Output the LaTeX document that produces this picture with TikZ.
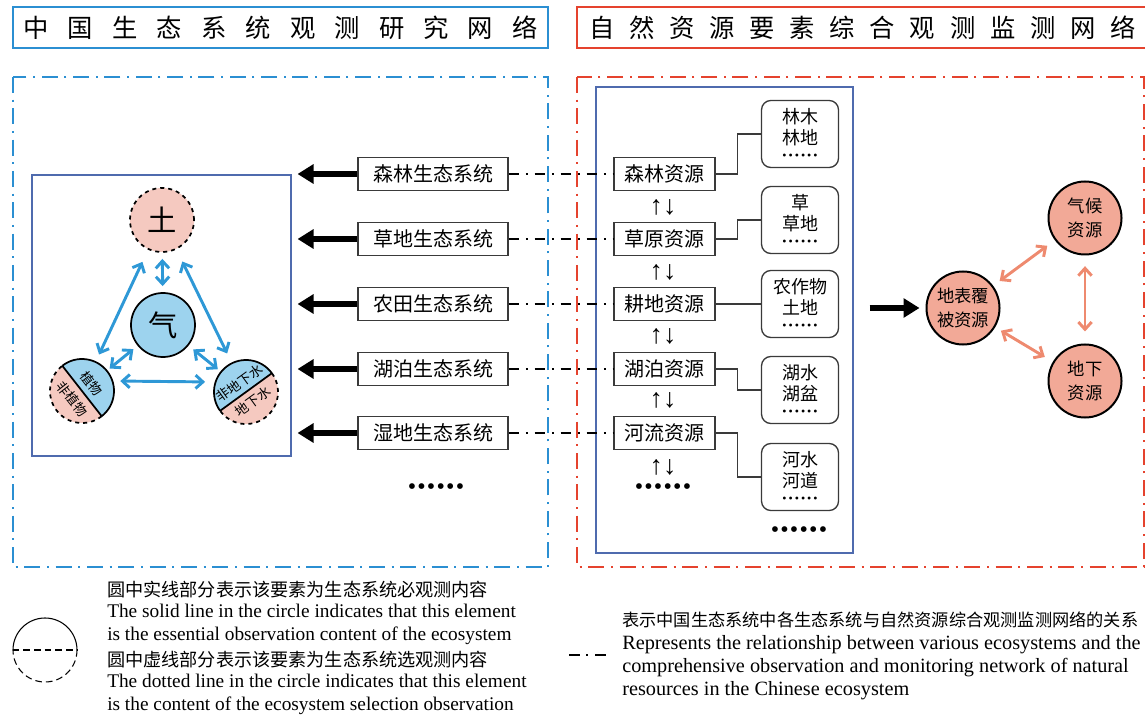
\documentclass[tikz,border=0pt]{standalone}
\usepackage{fontspec}
\setmainfont{Liberation Serif}
\newfontfamily\cjk{Noto Sans CJK SC}
\usetikzlibrary{arrows.meta}
\definecolor{blueA}{HTML}{2B8FD2}
\definecolor{redA}{HTML}{E5432E}
\definecolor{navyA}{HTML}{4F6BAE}
\definecolor{lblue}{HTML}{9DD3EE}
\definecolor{pinkL}{HTML}{F5C9C0}
\definecolor{salm}{HTML}{F2A997}
\definecolor{salArr}{HTML}{EE8A6F}
\definecolor{arrBlue}{HTML}{2E98D6}
\definecolor{boxLine}{HTML}{3A3A3A}
\newcommand{\myfs}[2]{\fontsize{#1}{#2}\selectfont}
\newcommand{\bigdots}{{\rmfamily\myfs{18}{18}\textbullet\kern0.9pt\textbullet\kern0.9pt\textbullet\kern0.9pt\textbullet\kern0.9pt\textbullet\kern0.9pt\textbullet}}
\newcommand{\smalldots}{{\rmfamily\myfs{9}{9}\textbullet\kern1.5pt\textbullet\kern1.5pt\textbullet\kern1.5pt\textbullet\kern1.5pt\textbullet\kern1.5pt\textbullet}}
\begin{document}
\begin{tikzpicture}[x=0.75pt,y=-0.75pt,
  hdr/.style={line width=2.2pt, inner sep=0pt, minimum height=30.75pt, align=left, font=\cjk\myfs{19}{22}},
  frameline/.style={line width=2pt, dash pattern=on 12pt off 5pt on 1.5pt off 5pt},
  innerbox/.style={draw=navyA, line width=0.8pt, inner sep=0pt},
  ecobox/.style={draw=boxLine, line width=0.9pt, fill=white, inner sep=0pt, minimum width=112.5pt, minimum height=24.75pt, font=\cjk\myfs{15}{18}},
  resbox/.style={draw=boxLine, line width=0.9pt, fill=white, inner sep=0pt, minimum width=75.75pt, minimum height=24.75pt, font=\cjk\myfs{15}{18}},
  rbx/.style={draw=boxLine, line width=1pt, rounded corners=7pt, inner sep=0pt, minimum width=57.75pt, minimum height=50.25pt, align=center, font=\cjk\myfs{13.5}{15.75}},
  udarr/.style={inner sep=0pt, font=\rmfamily\myfs{20}{20}},
  dotsn/.style={inner sep=0pt},
  bigarrow/.style={line width=4.5pt, -{Triangle[length=12pt,width=14pt]}},
  ddot/.style={line width=1.8pt, dash pattern=on 8pt off 5pt on 1.5pt off 5pt},
  elbow/.style={draw=boxLine, line width=0.9pt},
  circ/.style={circle, draw, line width=1.3pt, minimum size=48pt, inner sep=0pt, font=\cjk\myfs{22}{22}},
  cline/.style={line width=1.3pt},
  stxt/.style={inner sep=0pt, font=\cjk\myfs{10}{10.5}},
  barrow/.style={draw=arrBlue, line width=2.2pt, {Straight Barb[length=5.5pt,width=10pt]}-{Straight Barb[length=5.5pt,width=10pt]}},
  rcirc/.style={circle, draw, line width=1.5pt, fill=salm, minimum size=54.75pt, inner sep=0pt, align=center, font=\cjk\myfs{13}{17.5}},
  sarrow/.style={draw=salArr, line width=2.2pt, {Straight Barb[length=5.5pt,width=10pt]}-{Straight Barb[length=5.5pt,width=10pt]}},
  lgl/.style={line width=0.8pt},
  lgt/.style={inner sep=0pt, anchor=base west}
]
\useasboundingbox (0,0) rectangle (1145,716);

% headers
\node[hdr, draw=blueA, minimum width=401.25pt, text width=386pt] (h1) at (280.5,27.5)
  {中\hfill 国\hfill 生\hfill 态\hfill 系\hfill 统\hfill 观\hfill 测\hfill 研\hfill 究\hfill 网\hfill 络};
\node[hdr, draw=redA, minimum width=428.25pt, text width=410pt] (h2) at (862.5,27.5)
  {自\hfill 然\hfill 资\hfill 源\hfill 要\hfill 素\hfill 综\hfill 合\hfill 观\hfill 测\hfill 监\hfill 测\hfill 网\hfill 络};

% frames
\draw[frameline, draw=blueA] (13,77) rectangle (548,567);
\draw[frameline, draw=redA] (577,77) rectangle (1144,567);

% inner boxes
\node[innerbox, minimum width=194.25pt, minimum height=210.75pt] (lbox) at (161.5,315.5) {};
\node[innerbox, minimum width=192.75pt, minimum height=349.5pt] (rbox) at (724.5,320) {};

% left circles
\node[circ, fill=pinkL, dashed] (tu) at (162,220) {土};
\node[circ, fill=lblue] (qi) at (163,325) {气};

\node[circle, minimum size=48pt, inner sep=0pt] (zw) at (82,391) {};
\fill[lblue] (zw.center) ++(232:32) arc[start angle=232, end angle=412, radius=32] -- cycle;
\fill[pinkL] (zw.center) ++(52:32) arc[start angle=52, end angle=232, radius=32] -- cycle;
\draw[cline] (zw.center) ++(232:32) arc[start angle=232, end angle=412, radius=32];
\draw[cline, dashed] (zw.center) ++(52:32) arc[start angle=52, end angle=232, radius=32];
\draw[cline] (zw.center) +(232:32) -- +(52:32);
\node[stxt, rotate=-52] (zwa) at ([shift={(322:12)}]zw.center) {植物};
\node[stxt, rotate=-52] (zwb) at ([shift={(142:12.5)}]zw.center) {非植物};

\node[circle, minimum size=48pt, inner sep=0pt] (fs) at (246,392) {};
\fill[lblue] (fs.center) ++(144:32) arc[start angle=144, end angle=324, radius=32] -- cycle;
\fill[pinkL] (fs.center) ++(-36:32) arc[start angle=-36, end angle=144, radius=32] -- cycle;
\draw[cline] (fs.center) ++(144:32) arc[start angle=144, end angle=324, radius=32];
\draw[cline, dashed] (fs.center) ++(-36:32) arc[start angle=-36, end angle=144, radius=32];
\draw[cline] (fs.center) +(144:32) -- +(-36:32);
\node[stxt, rotate=36] (fsa) at ([shift={(234:11)}]fs.center) {非地下水};
\node[stxt, rotate=36] (fsb) at ([shift={(54:12)}]fs.center) {地下水};

\draw[barrow, shorten <=4.5pt, shorten >=4.5pt] (tu) -- (qi);
\draw[barrow, shorten <=10pt, shorten >=6pt] (tu) -- (zw);
\draw[barrow, shorten <=10pt, shorten >=8pt] (tu) -- (fs);
\draw[barrow, shorten <=4pt, shorten >=2.5pt] (qi) -- (zw);
\draw[barrow, shorten <=4.5pt, shorten >=3pt] (qi) -- (fs);
\draw[barrow, shorten <=4.5pt, shorten >=6.5pt] ([yshift=7.5pt]zw.east) -- ([yshift=7.5pt]fs.west);

% ecosystems and resources
\foreach \i/\t/\y in {1/森林生态系统/174, 2/草地生态系统/239, 3/农田生态系统/304, 4/湖泊生态系统/369, 5/湿地生态系统/433} {
  \node[ecobox] (e\i) at (433,\y) {\t};
  \draw[bigarrow, shorten >=4.5pt] (e\i.west) -- (e\i.west -| lbox.east);
}
\foreach \i/\t/\y in {1/森林资源/174, 2/草原资源/239, 3/耕地资源/304, 4/湖泊资源/369, 5/河流资源/433} {
  \node[resbox] (r\i) at (664.5,\y) {\t};
  \draw[ddot] (e\i.east) -- (r\i.west);
}
\foreach \i/\y in {1/207, 2/272, 3/336, 4/400, 5/467} {
  \node[udarr] (u\i) at (663,\y) {↑↓};
}
\node[dotsn] (d1) at (436,489) {\bigdots};
\node[dotsn] (d2) at (663,489) {\bigdots};
\node[dotsn] (d3) at (799,532) {\bigdots};

\node[rbx] (b1) at (800,134) {林木\\林地\\[-5pt]\smalldots};
\node[rbx] (b2) at (800,220) {草\\草地\\[-5pt]\smalldots};
\node[rbx] (b3) at (800,304) {农作物\\土地\\[-5pt]\smalldots};
\node[rbx] (b4) at (800,390) {湖水\\湖盆\\[-5pt]\smalldots};
\node[rbx] (b5) at (800,477) {河水\\河道\\[-5pt]\smalldots};
\foreach \i in {1,...,5} {
  \draw[elbow] (r\i.east) -- ++(22,0) |- (b\i.west);
}

% right circles
\node[rcirc] (db) at (963,308) {地表覆\\被资源};
\node[rcirc] (qh) at (1085,218) {气候\\资源};
\node[rcirc] (dx) at (1085,381) {地下\\资源};
\draw[bigarrow, shorten <=12pt, shorten >=4.5pt] (rbox.east |- db.west) -- (db.west);
\draw[sarrow, shorten <=6pt, shorten >=7pt] (db) -- (qh);
\draw[sarrow, shorten <=5pt, shorten >=7pt] (db) -- (dx);
\draw[sarrow, shorten <=8pt, shorten >=9pt] (qh) -- (dx);

% legend
\node[circle, minimum size=48pt, inner sep=0pt] (lc) at (45,650) {};
\draw[lgl] (lc.center) ++(180:32) arc[start angle=180, end angle=360, radius=32];
\draw[lgl, dash pattern=on 5pt off 3pt] (lc.center) ++(0:32) arc[start angle=0, end angle=180, radius=32];
\draw[lgl, dash pattern=on 5pt off 3pt] (lc.west) -- (lc.east);

\node[lgt, font=\cjk\myfs{13.6}{16}] (t1) at (107,596) {圆中实线部分表示该要素为生态系统必观测内容};
\node[lgt, font=\myfs{14.5}{17}] (t2) at (107,617) {The solid line in the circle indicates that this element};
\node[lgt, font=\myfs{14.5}{17}] (t3) at (107,640) {is the essential observation content of the ecosystem};
\node[lgt, font=\cjk\myfs{13.6}{16}] (t4) at (107,666) {圆中虚线部分表示该要素为生态系统选观测内容};
\node[lgt, font=\myfs{14.5}{17}] (t5) at (107,687) {The dotted line in the circle indicates that this element};
\node[lgt, font=\myfs{14.5}{17}] (t6) at (107,710) {is the content of the ecosystem selection observation};

\coordinate (ls1) at (569,655);
\coordinate (ls2) at (606,655);
\draw[ddot, line width=2pt] (ls1) -- (ls2);
\node[lgt, font=\cjk\myfs{12.9}{16}] (s1) at (622,626) {表示中国生态系统中各生态系统与自然资源综合观测监测网络的关系};
\node[lgt, font=\myfs{15.2}{17}] (s2) at (622,649) {Represents the relationship between various ecosystems and the};
\node[lgt, font=\myfs{15.2}{17}] (s3) at (622,672) {comprehensive observation and monitoring network of natural};
\node[lgt, font=\myfs{15.2}{17}] (s4) at (622,695) {resources in the Chinese ecosystem};
\end{tikzpicture}
\end{document}
